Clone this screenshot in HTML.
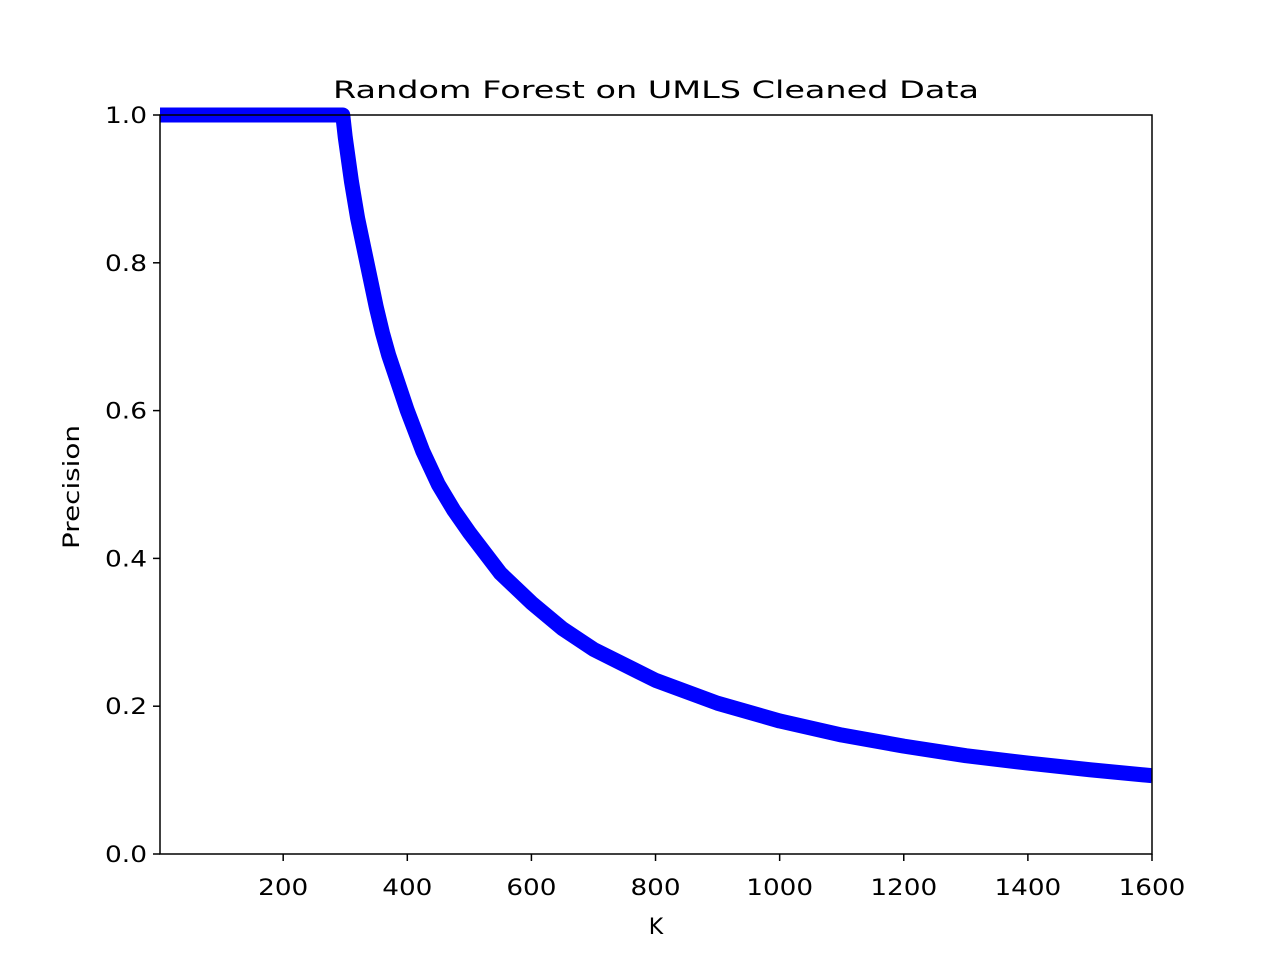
<!DOCTYPE html>
<html>
<head>
<meta charset="utf-8">
<style>
html,body{margin:0;padding:0;background:#fff;}
svg text{font-family:"DejaVu Sans","Liberation Sans",sans-serif;fill:#000;}
</style>
</head>
<body>
<svg id="chart" width="1280" height="960" viewBox="0 0 1280 960" xmlns="http://www.w3.org/2000/svg">
  <defs><clipPath id="clip"><rect x="160" y="105" width="992" height="749"/></clipPath></defs>
  <rect x="0" y="0" width="1280" height="960" fill="#fff"/>
  <text x="656" y="98" font-size="24" text-anchor="middle" textLength="646" lengthAdjust="spacingAndGlyphs">Random Forest on UMLS Cleaned Data</text>
  <g id="plot"></g>
  <rect x="160" y="115" width="992" height="739" fill="none" stroke="#000" stroke-width="1.5"/>
  <g id="xticks"></g>
  <g id="yticks"></g>
  <text x="656" y="934" font-size="22" text-anchor="middle">K</text>
  <text x="79" y="487" font-size="22" text-anchor="middle" textLength="124" lengthAdjust="spacingAndGlyphs" transform="rotate(-90 79 487)">Precision</text>
</svg>
<script>
const kValues = [1, 290, 296, 300, 310, 320, 330, 340, 350, 360, 370, 380, 390, 400, 425, 450, 475, 500, 550, 600, 650, 700, 800, 900, 1000, 1100, 1200, 1300, 1400, 1500, 1600];
const precisionValues = [1, 1, 1, 0.97, 0.91, 0.86, 0.82, 0.78, 0.74, 0.705, 0.675, 0.65, 0.625, 0.60, 0.545, 0.50, 0.465, 0.435, 0.38, 0.34, 0.305, 0.277, 0.235, 0.204, 0.18, 0.161, 0.146, 0.133, 0.123, 0.114, 0.106];
const xTickLabels = [200, 400, 600, 800, 1000, 1200, 1400, 1600];
const yTickLabels = [0.0, 0.2, 0.4, 0.6, 0.8, 1.0];

const X0 = 160, X1 = 1152, Y0 = 854, Y1 = 115;
const xMin = 1.5, xMax = 1600, yMin = 0, yMax = 1;
function xs(v){ return X0 + (v - xMin) / (xMax - xMin) * (X1 - X0); }
function ys(v){ return Y0 - (v - yMin) / (yMax - yMin) * (Y0 - Y1); }
const NS = "http://www.w3.org/2000/svg";

const plot = document.getElementById("plot");
const line = document.createElementNS(NS, "polyline");
line.setAttribute("points", kValues.map((k, i) => xs(k) + "," + ys(precisionValues[i])).join(" "));
line.setAttribute("fill", "none");
line.setAttribute("stroke", "#0000ff");
line.setAttribute("stroke-width", "15");
line.setAttribute("stroke-linejoin", "round");
line.setAttribute("clip-path", "url(#clip)");


plot.appendChild(line);

const charW = 16.7;
const xg = document.getElementById("xticks");
xTickLabels.forEach(v => {
  const x = xs(v);
  const t = document.createElementNS(NS, "line");
  t.setAttribute("x1", x); t.setAttribute("x2", x);
  t.setAttribute("y1", Y0); t.setAttribute("y2", Y0 + 7);
  t.setAttribute("stroke", "#000"); t.setAttribute("stroke-width", "1.5");
  
  
  xg.appendChild(t);
  const l = document.createElementNS(NS, "text");
  const s = String(v);
  l.setAttribute("x", x); l.setAttribute("y", Y0 + 41);
  l.setAttribute("font-size", "22"); l.setAttribute("text-anchor", "middle");
  l.setAttribute("textLength", s.length * charW); l.setAttribute("lengthAdjust", "spacingAndGlyphs");
  l.textContent = s;
  
  
  xg.appendChild(l);
});

const yg = document.getElementById("yticks");
yTickLabels.forEach(v => {
  const y = ys(v);
  const t = document.createElementNS(NS, "line");
  t.setAttribute("x1", X0 - 7); t.setAttribute("x2", X0);
  t.setAttribute("y1", y); t.setAttribute("y2", y);
  t.setAttribute("stroke", "#000"); t.setAttribute("stroke-width", "1.5");
  
  
  yg.appendChild(t);
  const l = document.createElementNS(NS, "text");
  l.setAttribute("x", X0 - 13); l.setAttribute("y", y + 8);
  l.setAttribute("font-size", "22"); l.setAttribute("text-anchor", "end");
  l.setAttribute("textLength", 42); l.setAttribute("lengthAdjust", "spacingAndGlyphs");
  l.textContent = v.toFixed(1);
  
  
  yg.appendChild(l);
});
</script>
</body>
</html>
